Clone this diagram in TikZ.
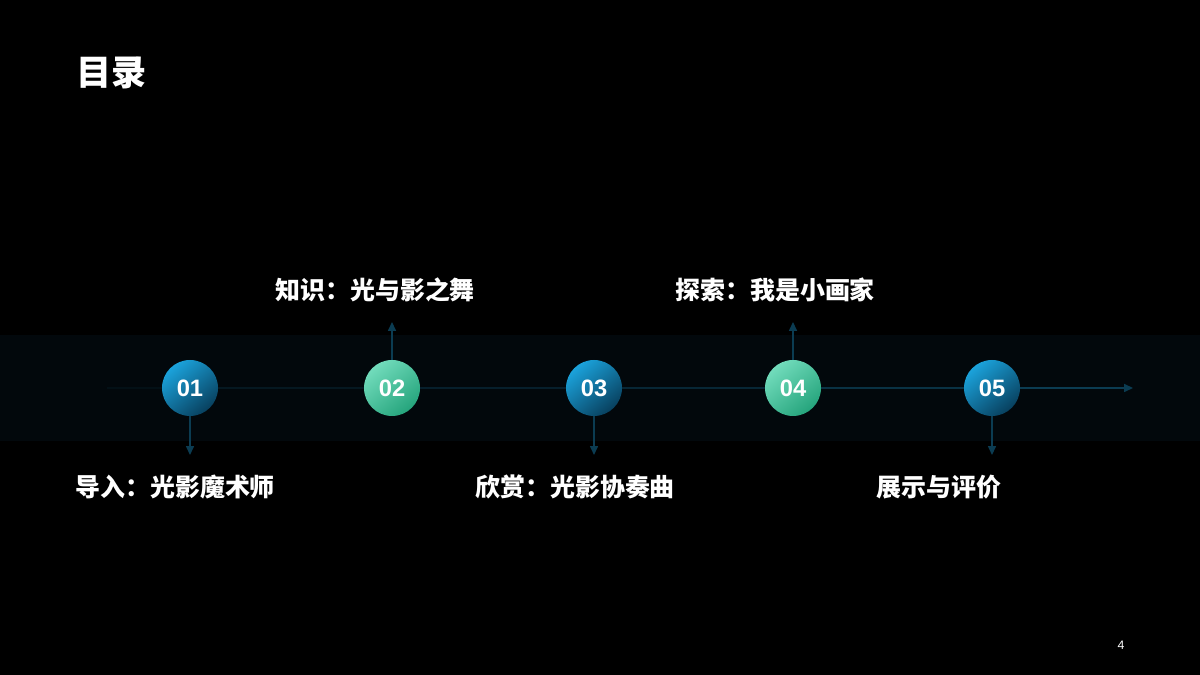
\documentclass[tikz,border=0pt]{standalone}
\usepackage{fontspec}
\setmainfont{Noto Sans CJK SC}
\newfontfamily\numfont{Liberation Sans}
\usetikzlibrary{arrows.meta,positioning}
\definecolor{bandbg}{HTML}{02080C}
\definecolor{linecol}{HTML}{0B3C52}
\definecolor{bluetop}{HTML}{1BA3DC}
\definecolor{bluebot}{HTML}{08405E}
\definecolor{greentop}{HTML}{72DCBC}
\definecolor{greenbot}{HTML}{25A47C}

\begin{document}
\begin{tikzpicture}[x=0.02cm, y=0.02cm,
  bluedot/.style={circle, minimum size=1.12cm, inner sep=0pt, top color=bluetop, bottom color=bluebot, shading angle=40, text=white, font=\numfont\fontsize{13.5}{15}\selectfont\bfseries},
  greendot/.style={circle, minimum size=1.12cm, inner sep=0pt, top color=greentop, bottom color=greenbot, shading angle=40, text=white, font=\numfont\fontsize{13.5}{15}\selectfont\bfseries},
  itemlabel/.style={anchor=west, text=white, font=\fontsize{14.2}{16}\selectfont\bfseries, inner sep=0pt},
  link/.style={linecol, line width=0.7pt, -{Triangle[length=5pt, width=4.5pt]}},
  track/.style={line width=0.7pt}]
  % page
  \fill[black] (0,0) rectangle (1200,675);
  \useasboundingbox (0,0) rectangle (1200,675);
  \node[anchor=west, text=white, inner sep=0pt, font=\fontsize{20}{23}\selectfont\bfseries] (title) at (76,602) {目录};

  % band behind the timeline
  \fill[bandbg] (0,234) rectangle (1200,340);

  % stations
  \coordinate (start) at (107,287);
  \coordinate (stop) at (1133,287);
  \node[bluedot] (s1) at (190,287) {01};
  \node[greendot] (s2) at (392,287) {02};
  \node[bluedot] (s3) at (594,287) {03};
  \node[greendot] (s4) at (793,287) {04};
  \node[bluedot] (s5) at (992,287) {05};

  % timeline, getting brighter to the right
  \draw[track, linecol!15!bandbg] (start) -- (s1);
  \draw[track, linecol!30!bandbg] (s1) -- (s2);
  \draw[track, linecol!45!bandbg] (s2) -- (s3);
  \draw[track, linecol!60!bandbg] (s3) -- (s4);
  \draw[track, linecol!80!bandbg] (s4) -- (s5);
  \draw[link] (s5) -- (stop);

  % pointers
  \coordinate (p1) at (190,220);
  \coordinate (p2) at (392,353);
  \coordinate (p3) at (594,220);
  \coordinate (p4) at (793,353);
  \coordinate (p5) at (992,220);
  \draw[link] (s1) -- (p1);
  \draw[link] (s2) -- (p2);
  \draw[link] (s3) -- (p3);
  \draw[link] (s4) -- (p4);
  \draw[link] (s5) -- (p5);

  % labels
  \node[itemlabel] (l1) at (75,188) {导入：光影魔术师};
  \node[itemlabel] (l2) at (275,385) {知识：光与影之舞};
  \node[itemlabel] (l3) at (475,188) {欣赏：光影协奏曲};
  \node[itemlabel] (l4) at (675,385) {探索：我是小画家};
  \node[itemlabel] (l5) at (876,188) {展示与评价};

  % page number
  \node[text=white, font=\numfont\fontsize{7}{8}\selectfont] (page) at (1121,30) {4};
\end{tikzpicture}
\end{document}
